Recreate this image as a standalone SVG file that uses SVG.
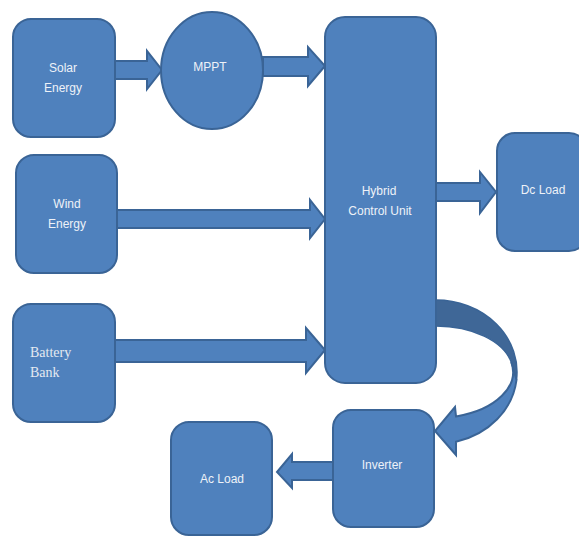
<svg xmlns="http://www.w3.org/2000/svg" width="579" height="538" viewBox="0 0 579 538">
  <style>
    .box { fill: #4F81BD; stroke: #3A6496; stroke-width: 2; }
    .arr { fill: #4F81BD; stroke: #3A6496; stroke-width: 2; stroke-linejoin: miter; }
    .arrdark { fill: #3F6797; stroke: #3A6496; stroke-width: 1.5; }
    .lbl { font-family: "Liberation Sans", Arial, sans-serif; font-size: 12px; fill: #EEF2F8; text-anchor: middle; }
    .serif { font-family: "Liberation Serif", "Times New Roman", serif; font-size: 14px; fill: #E4E9F1; }
  </style>
  <rect width="579" height="538" fill="#FFFFFF"/>
  <g id="connectors">
    <!-- Solar -> MPPT -->
    <polygon class="arr" points="115,61 147,61 147,51 162,70 147,89 147,79 115,79"/>
    <!-- MPPT -> Hybrid -->
    <polygon class="arr" points="263,57 308,57 308,47 325,66 308,86 308,76 263,76"/>
    <!-- Wind -> Hybrid -->
    <polygon class="arr" points="117,210 310,210 310,200 325,219 310,238 310,228 117,228"/>
    <!-- Battery -> Hybrid -->
    <polygon class="arr" points="115,340 306,340 306,328 325,350 306,373 306,362 115,362"/>
    <!-- Hybrid -> Dc Load -->
    <polygon class="arr" points="436,183 480,183 480,172 496,192 480,213 480,201 436,201"/>
    <!-- Inverter -> Ac Load -->
    <polygon class="arr" points="333,462 292,462 292,454 277,472 292,488 292,480 333,480"/>
    <!-- Hybrid -> Inverter (curved) -->
    <path class="arrdark" d="M 436 300 A 81 72 0 0 1 516.5 380 L 511.2 362 A 77 46 0 0 0 436 326 Z"/>
    <path class="arr" d="M 516.5 380 A 81 72 0 0 1 456 441.8 L 456 455 L 435 431 L 455 407 L 456 416.4 A 77 46 0 0 0 511.2 362 Z"/>
  </g>
  <g id="solar">
    <rect class="box" x="13" y="19" width="102" height="118" rx="18"/>
    <text class="lbl" x="63" y="72">Solar</text>
    <text class="lbl" x="63" y="92">Energy</text>
  </g>
  <g id="mppt">
    <ellipse class="box" cx="212" cy="70.5" rx="51" ry="58.5"/>
    <text class="lbl" x="210" y="71">MPPT</text>
  </g>
  <g id="wind">
    <rect class="box" x="16" y="155" width="101" height="118" rx="18"/>
    <text class="lbl" x="67" y="208">Wind</text>
    <text class="lbl" x="67" y="228">Energy</text>
  </g>
  <g id="battery">
    <rect class="box" x="13" y="304" width="102" height="118" rx="18"/>
    <text class="serif" x="30" y="357">Battery</text>
    <text class="serif" x="30" y="377">Bank</text>
  </g>
  <g id="hybrid">
    <rect class="box" x="325" y="17" width="111" height="366" rx="20"/>
    <text class="lbl" x="379" y="195">Hybrid</text>
    <text class="lbl" x="380" y="215">Control Unit</text>
  </g>
  <g id="dcload">
    <rect class="box" x="497" y="133" width="90" height="118" rx="18"/>
    <text class="lbl" x="543" y="194">Dc Load</text>
  </g>
  <g id="inverter">
    <rect class="box" x="333" y="410" width="101" height="117" rx="18"/>
    <text class="lbl" x="382" y="469">Inverter</text>
  </g>
  <g id="acload">
    <rect class="box" x="171" y="422" width="101" height="113" rx="18"/>
    <text class="lbl" x="222" y="483">Ac Load</text>
  </g>
</svg>
